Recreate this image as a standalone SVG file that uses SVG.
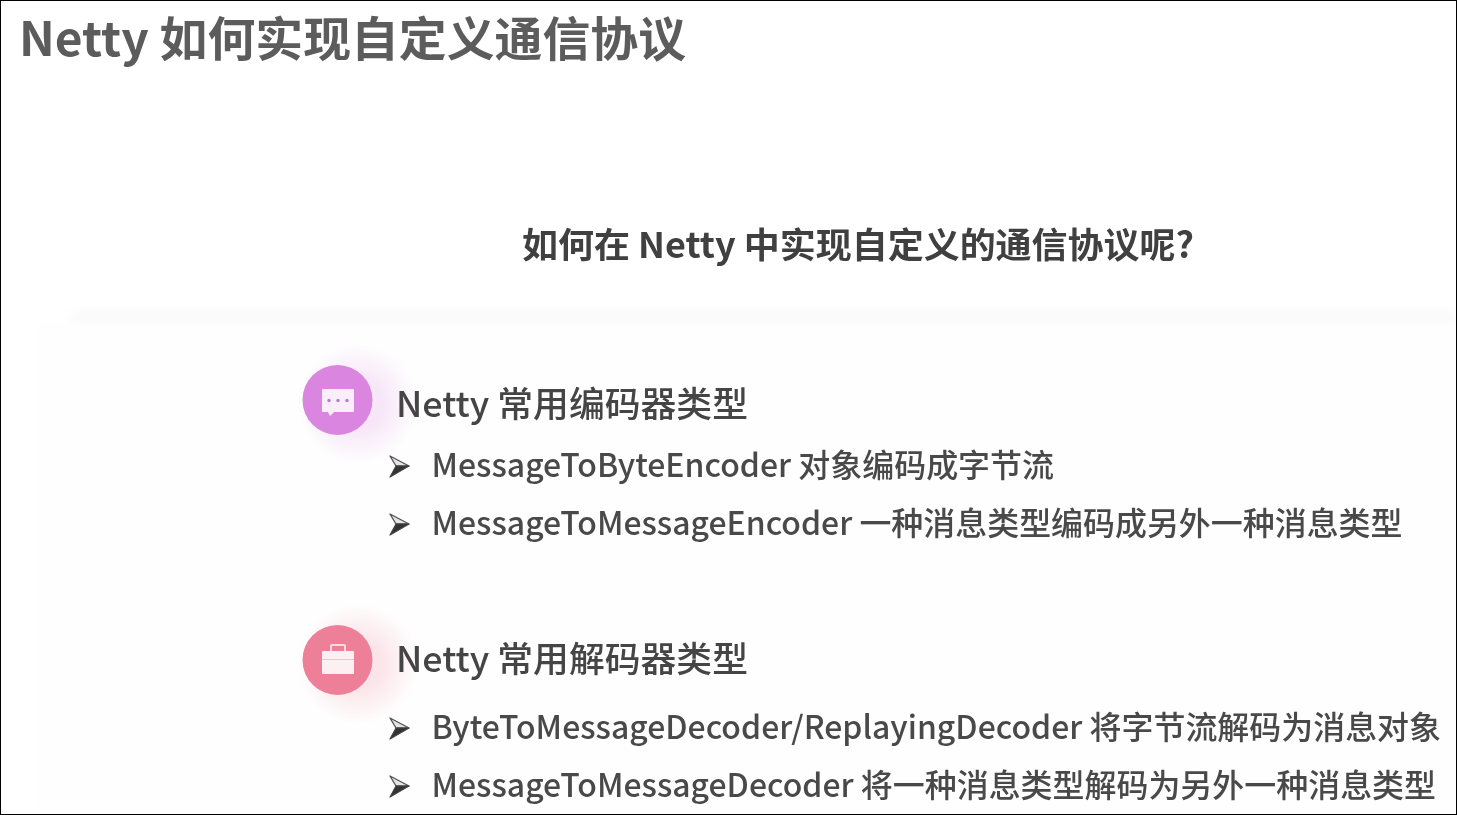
<svg xmlns="http://www.w3.org/2000/svg" width="1457" height="815" viewBox="0 0 1457 815">
<style>
text{font-family:"Noto Sans CJK SC","Noto Sans",sans-serif;white-space:pre;filter:url(#b)}
.t{font-size:47px;font-weight:700;fill:#5c5c5c}
.q{font-size:35px;font-weight:700;fill:#3f3f3f}
.h{font-size:35px;font-weight:500;fill:#454545}
.b{font-size:32px;font-weight:500;fill:#4a4a4a}
</style>
<defs>
<filter id="soft" x="-30%" y="-100%" width="160%" height="300%"><feGaussianBlur stdDeviation="5"/></filter>
<filter id="b" x="-5%" y="-20%" width="110%" height="140%"><feGaussianBlur stdDeviation="0.5"/></filter>
<filter id="b2" x="-20%" y="-20%" width="140%" height="140%"><feGaussianBlur stdDeviation="0.6"/></filter>
<radialGradient id="gp"><stop offset="0.4" stop-color="#d987e0" stop-opacity=".2"/><stop offset="1" stop-color="#d987e0" stop-opacity="0"/></radialGradient>
<radialGradient id="gr"><stop offset="0.4" stop-color="#ef7f98" stop-opacity=".2"/><stop offset="1" stop-color="#ef7f98" stop-opacity="0"/></radialGradient>
<g id="arrow" filter="url(#b2)">
<path d="M390 456 L409 466 L396 466 Z" fill="#e4e4e4" stroke="#555" stroke-width="1.400" stroke-linejoin="round"/>
<path d="M409 466 L390 477 L396 466 Z" fill="#333" stroke="#444" stroke-width="1.200" stroke-linejoin="round"/>
</g>
</defs>
<rect width="1457" height="815" fill="#fff"/>
<g id="panel">
<rect x="70" y="312" width="1387" height="12" fill="#f9f9f9" filter="url(#soft)"/>
<rect x="38" y="324" width="1419" height="491" fill="#fefefe"/>
</g>
<g id="title"><text class="t" x="19" y="56" textLength="667" lengthAdjust="spacingAndGlyphs">Netty 如何实现自定义通信协议</text></g>
<g id="question"><text class="q" x="522" y="258" textLength="672" lengthAdjust="spacingAndGlyphs">如何在 Netty 中实现自定义的通信协议呢?</text></g>
<g id="encoder-icon">
<circle cx="358" cy="404" r="60" fill="url(#gp)"/>
<circle cx="337.500" cy="400" r="35" fill="#da86e0"/>
<g filter="url(#b2)">
<path d="M322 390 Q322 389 323 389 H353 Q354 389 354 390 V411 Q354 412 353 412 H334 L330 416 L328 412 H323 Q322 412 322 411 Z" fill="#fbeefb"/>
<circle cx="329" cy="400.500" r="1.700" fill="#b77cc6"/><circle cx="338" cy="400.500" r="1.700" fill="#b77cc6"/><circle cx="347" cy="400.500" r="1.700" fill="#b77cc6"/>
</g>
</g>
<g id="encoder-heading"><text class="h" x="396" y="417" textLength="352" lengthAdjust="spacingAndGlyphs">Netty 常用编码器类型</text></g>
<g id="encoder-items">
<use href="#arrow"/>
<text class="b" x="431.500" y="477" textLength="622.500" lengthAdjust="spacingAndGlyphs">MessageToByteEncoder 对象编码成字节流</text>
<use href="#arrow" y="58"/>
<text class="b" x="431.500" y="535" textLength="971" lengthAdjust="spacingAndGlyphs">MessageToMessageEncoder 一种消息类型编码成另外一种消息类型</text>
</g>
<g id="decoder-icon">
<circle cx="358" cy="664" r="60" fill="url(#gr)"/>
<circle cx="337.500" cy="660" r="35" fill="#ed7f98"/>
<g filter="url(#b2)">
<path d="M331 652 V646 Q331 645 332 645 H344 Q345 645 345 646 V652" fill="none" stroke="#f9dbe2" stroke-width="2"/>
<rect x="322" y="651" width="32" height="23" rx="1" fill="#fcf0f3"/>
<path d="M322 659.500 H354" stroke="#f6c0cc" stroke-width="1"/>
</g>
</g>
<g id="decoder-heading"><text class="h" x="396" y="672" textLength="352" lengthAdjust="spacingAndGlyphs">Netty 常用解码器类型</text></g>
<g id="decoder-items">
<use href="#arrow" y="262"/>
<text class="b" x="431.500" y="739" textLength="1009.500" lengthAdjust="spacingAndGlyphs">ByteToMessageDecoder/ReplayingDecoder 将字节流解码为消息对象</text>
<use href="#arrow" y="320"/>
<text class="b" x="431.500" y="797" textLength="1004.500" lengthAdjust="spacingAndGlyphs">MessageToMessageDecoder 将一种消息类型解码为另外一种消息类型</text>
</g>
<g id="frame" fill="none" stroke="#000" stroke-width="1"><rect x="0.500" y="0.500" width="1456" height="814"/></g>
</svg>
